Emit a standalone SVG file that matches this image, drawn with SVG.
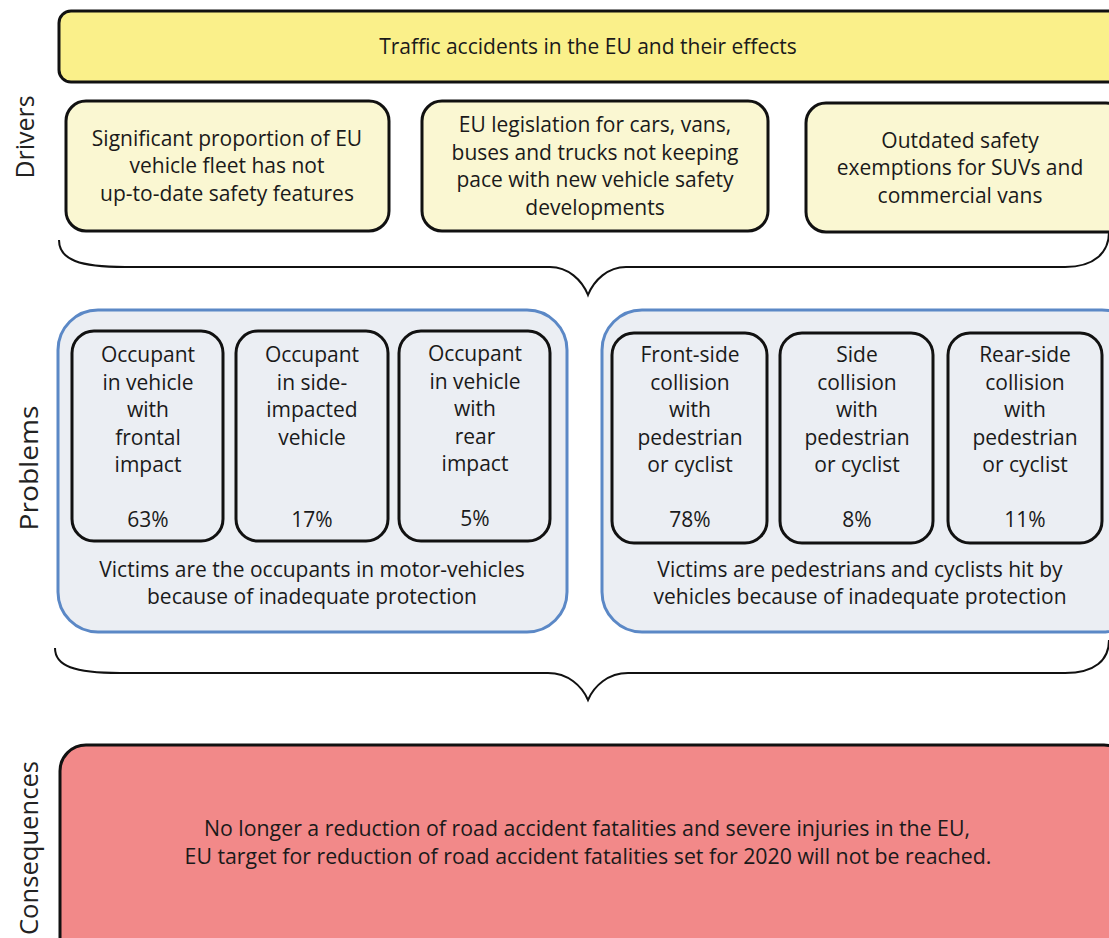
<svg xmlns="http://www.w3.org/2000/svg" width="1109" height="938" viewBox="0 0 1109 938">
<style>
text{font-family:"Open Sans","Liberation Sans",Arial,sans-serif;fill:#1a1a1a;text-anchor:middle}
.t{font-size:21px}
.b{font-size:21.3px}
.side{font-size:25px;fill:#222}
.driver{fill:#FAF7D2;stroke:#111;stroke-width:3}
.grp{fill:#EBEEF3;stroke:#5B88C6;stroke-width:3}
.inner{fill:#EBEEF3;stroke:#111;stroke-width:3}
.brace{fill:none;stroke:#111;stroke-width:2}
</style>
<rect width="1109" height="938" fill="#fff"/>
<g id="label-drivers"><text class="side" transform="translate(34,137) rotate(-90)" textLength="83" lengthAdjust="spacingAndGlyphs">Drivers</text></g>
<g id="label-problems"><text class="side" transform="translate(38,468) rotate(-90)" textLength="125" lengthAdjust="spacingAndGlyphs">Problems</text></g>
<g id="label-consequences"><text class="side" transform="translate(38,848) rotate(-90)" textLength="174" lengthAdjust="spacingAndGlyphs">Consequences</text></g>
<g id="title"><rect x="59" y="11" width="1062" height="71" rx="12" fill="#FAF08A" stroke="#111" stroke-width="3"/><text class="t" x="588" y="54">Traffic accidents in the EU and their effects</text></g>
<g id="driver1"><rect class="driver" x="66" y="101" width="323" height="130" rx="20"/><text class="t" x="227" y="146">Significant proportion of EU</text><text class="t" x="227" y="173">vehicle fleet has not</text><text class="t" x="227" y="201">up-to-date safety features</text></g>
<g id="driver2"><rect class="driver" x="422" y="101" width="346" height="130" rx="20"/><text class="t" x="595" y="132">EU legislation for cars, vans,</text><text class="t" x="595" y="160">buses and trucks not keeping</text><text class="t" x="595" y="187">pace with new vehicle safety</text><text class="t" x="595" y="215">developments</text></g>
<g id="driver3"><rect class="driver" x="806" y="103" width="320" height="129" rx="20"/><text class="t" x="960" y="148">Outdated safety</text><text class="t" x="960" y="175">exemptions for SUVs and</text><text class="t" x="960" y="203">commercial vans</text></g>
<g id="group-occupants"><rect class="grp" x="58" y="310" width="509" height="322" rx="40"/><text class="t" x="312" y="577">Victims are the occupants in motor-vehicles</text><text class="t" x="312" y="604">because of inadequate protection</text></g>
<g id="occ-front"><rect class="inner" x="72" y="331" width="151" height="210" rx="22"/><text class="t" x="148" y="362">Occupant</text><text class="t" x="148" y="390">in vehicle</text><text class="t" x="148" y="417">with</text><text class="t" x="148" y="445">frontal</text><text class="t" x="148" y="472">impact</text><text class="t" x="148" y="527">63%</text></g>
<g id="occ-side"><rect class="inner" x="236" y="331" width="152" height="210" rx="22"/><text class="t" x="312" y="362">Occupant</text><text class="t" x="312" y="390">in side-</text><text class="t" x="312" y="417">impacted</text><text class="t" x="312" y="445">vehicle</text><text class="t" x="312" y="527">17%</text></g>
<g id="occ-rear"><rect class="inner" x="399" y="331" width="151" height="210" rx="22"/><text class="t" x="475" y="361">Occupant</text><text class="t" x="475" y="389">in vehicle</text><text class="t" x="475" y="416">with</text><text class="t" x="475" y="444">rear</text><text class="t" x="475" y="471">impact</text><text class="t" x="475" y="526">5%</text></g>
<g id="group-pedestrians"><rect class="grp" x="602" y="310" width="540" height="322" rx="40"/><text class="t" x="860" y="577">Victims are pedestrians and cyclists hit by</text><text class="t" x="860" y="604">vehicles because of inadequate protection</text></g>
<g id="ped-front"><rect class="inner" x="612" y="333" width="155" height="210" rx="22"/><text class="t" x="690" y="362">Front-side</text><text class="t" x="690" y="390">collision</text><text class="t" x="690" y="417">with</text><text class="t" x="690" y="445">pedestrian</text><text class="t" x="690" y="472">or cyclist</text><text class="t" x="690" y="527">78%</text></g>
<g id="ped-side"><rect class="inner" x="780" y="333" width="153" height="210" rx="22"/><text class="t" x="857" y="362">Side</text><text class="t" x="857" y="390">collision</text><text class="t" x="857" y="417">with</text><text class="t" x="857" y="445">pedestrian</text><text class="t" x="857" y="472">or cyclist</text><text class="t" x="857" y="527">8%</text></g>
<g id="ped-rear"><rect class="inner" x="948" y="333" width="154" height="210" rx="22"/><text class="t" x="1025" y="362">Rear-side</text><text class="t" x="1025" y="390">collision</text><text class="t" x="1025" y="417">with</text><text class="t" x="1025" y="445">pedestrian</text><text class="t" x="1025" y="472">or cyclist</text><text class="t" x="1025" y="527">11%</text></g>
<g id="consequences"><rect x="60" y="745" width="1070" height="220" rx="26" fill="#F28989" stroke="#111" stroke-width="3"/><text class="b" x="587" y="836">No longer a reduction of road accident fatalities and severe injuries in the EU,</text><text class="b" x="588" y="864">EU target for reduction of road accident fatalities set for 2020 will not be reached.</text></g>
<g id="connectors">
<path class="brace" d="M59,240 C59,260 80,267 125,267 L550,267 C568,267 582,280 588,295 C594,280 608,267 626,267 L1065,267 C1095,267 1109,252 1109,232"/>
<path class="brace" d="M55,648 C55,666 74,673 120,673 L548,673 C568,673 582,686 588,700 C594,686 608,673 628,673 L1065,673 C1095,673 1109,660 1109,640"/>
</g>
</svg>
